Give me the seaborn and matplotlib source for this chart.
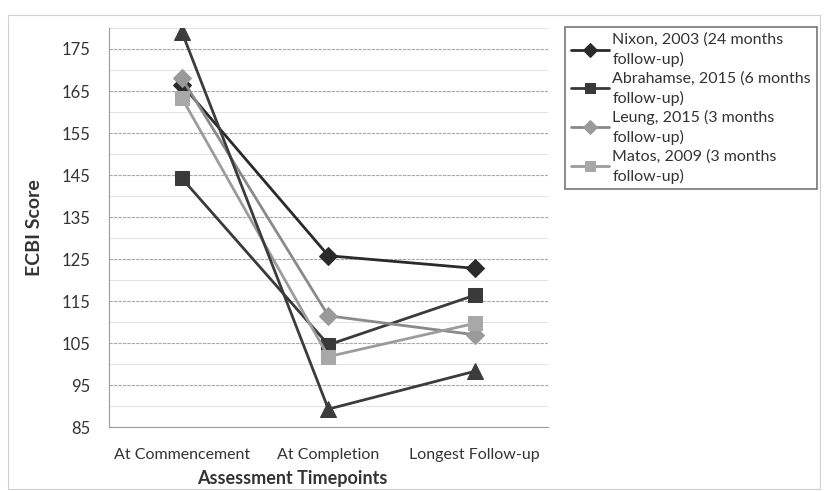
import matplotlib
matplotlib.use("Agg")
import matplotlib.pyplot as plt
import seaborn as sns
import pandas as pd
from matplotlib.patches import Rectangle

timepoints = ["At Commencement", "At Completion", "Longest Follow-up"]
nixon = [166.5, 125.8, 122.8]
abrahamse = [144.2, 104.6, 116.4]
leung = [168.0, 111.5, 107.0]
matos = [163.3, 101.8, 109.7]
unlabeled = [179.0, 89.3, 98.3]

series_names = [
    "Nixon, 2003 (24 months\nfollow-up)",
    "Abrahamse, 2015 (6 months\nfollow-up)",
    "Leung, 2015 (3 months\nfollow-up)",
    "Matos, 2009 (3 months\nfollow-up)",
    "_unlabeled",
]
series_values = [nixon, abrahamse, leung, matos, unlabeled]
colors = ["#2a2a2a", "#3a3a3a", "#9a9a9a", "#a8a8a8", "#3c3c3c"]
line_colors = ["#2a2a2a", "#3a3a3a", "#8a8a8a", "#9c9c9c", "#3c3c3c"]
markers = ["D", "s", "D", "s", "^"]
msizes = [9.5, 10.5, 9.5, 10.5, 12]
yticks = list(range(85, 180, 10))

sns.set_theme(style="white")
plt.rcParams["font.family"] = ["Lato", "DejaVu Sans"]

fig = plt.figure(figsize=(8.24, 4.91), dpi=100)
ax = fig.add_axes([0.132, 0.130, 0.533, 0.813])

rows = []
for name, vals in zip(series_names, series_values):
    for i, v in enumerate(vals):
        rows.append({"series": name, "x": i, "value": v})
df = pd.DataFrame(rows)

order = [4, 3, 2, 1, 0]
for k in order:
    name = series_names[k]
    sub = df[df["series"] == name]
    sns.lineplot(data=sub, x="x", y="value", ax=ax, color=line_colors[k],
                 marker=markers[k], markersize=msizes[k],
                 markerfacecolor=colors[k], markeredgecolor=colors[k],
                 linewidth=2.0, label=name, legend=False, zorder=3 + k)

ax.set_xlim(-0.5, 2.5)
ax.set_ylim(85, 180)
ax.set_yticks(yticks)
ax.set_yticks(list(range(90, 181, 10)), minor=True)
ax.set_xticks([0, 1, 2])
ax.set_xticklabels(timepoints)
ax.set_xticks([0.5, 1.5], minor=True)
ax.grid(which="major", axis="y", color="#a8a8a8", linewidth=0.8, linestyle=(0, (3, 1)))
ax.grid(which="minor", axis="y", color="#e2e2e2", linewidth=0.7)
ax.set_axisbelow(True)
for s in ["top", "right"]:
    ax.spines[s].set_visible(False)
for s in ["left", "bottom"]:
    ax.spines[s].set_color("#9a9a9a")
    ax.spines[s].set_linewidth(0.8)
ax.tick_params(axis="y", which="major", length=5, color="#9a9a9a", labelsize=12, labelcolor="#333333", pad=8)
ax.tick_params(axis="y", which="minor", length=0)
ax.tick_params(axis="x", which="major", length=0, labelsize=11.5, labelcolor="#333333", pad=15)
ax.tick_params(axis="x", which="minor", length=4, color="#9a9a9a")
ax.set_xlabel("Assessment Timepoints", fontsize=13, fontweight="bold", color="#333333")
ax.set_ylabel("ECBI Score", fontsize=14, fontweight="bold", color="#333333")
ax.xaxis.set_label_coords(0.417, -0.108)
ax.yaxis.set_label_coords(-0.15, 0.5)

handles, labels = ax.get_legend_handles_labels()
hl = {l: h for h, l in zip(handles, labels)}
leg_names = series_names[:4]
leg = fig.legend([hl[n] for n in leg_names], leg_names, loc="upper left",
                 bbox_to_anchor=(0.686, 0.945), borderaxespad=0, frameon=True,
                 fontsize=11.5, handlelength=2.4, handletextpad=0.2, borderpad=0.35,
                 labelspacing=0.28, fancybox=False, markerscale=0.75)
leg.get_frame().set_edgecolor("#555555")
leg.get_frame().set_linewidth(1.2)
for t in leg.get_texts():
    t.set_color("#333333")
    t.set_linespacing(1.4)

fig.patches.append(Rectangle((0.01, 0.005), 0.985, 0.965, transform=fig.transFigure,
                             fill=False, edgecolor="#d0d0d0", linewidth=0.8))

fig.savefig("out.png", dpi=100)
